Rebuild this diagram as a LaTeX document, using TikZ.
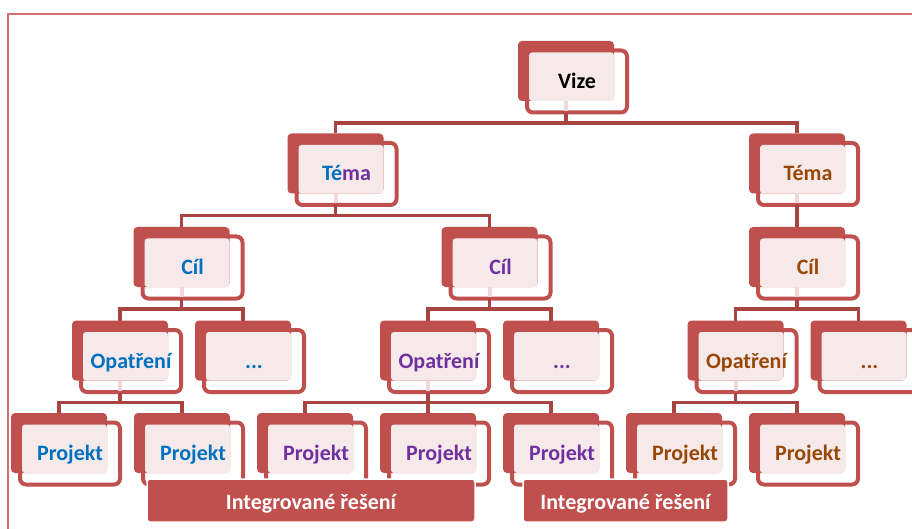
\documentclass[tikz,border=0pt]{standalone}
\usepackage{fontspec}
\setmainfont{Carlito}
\usepackage{tikz}
\usetikzlibrary{positioning}

\definecolor{boxRed}{HTML}{C0504D}
\definecolor{connRed}{HTML}{A84542}
\definecolor{boxPink}{HTML}{F6E9E9}
\definecolor{stripePink}{HTML}{F0D9D8}
\definecolor{frameRed}{HTML}{D56F6F}
\definecolor{tBlue}{HTML}{0070C0}
\definecolor{tPurple}{HTML}{7030A0}
\definecolor{tBrown}{HTML}{984806}

\begin{document}
\begin{tikzpicture}[x=1pt, y=-1pt,
		solidbox/.style={fill=boxRed, rounded corners=4pt, minimum width=96pt, minimum height=60pt, inner sep=0pt, outer sep=0pt},
		framebox/.style={draw=boxRed, line width=4pt, rounded corners=6pt, minimum width=100pt, minimum height=62pt, inner sep=0pt, outer sep=0pt},
		boxfill/.style={fill=boxPink, rounded corners=3pt},
		boxtext/.style={font=\bfseries\fontsize{22}{26}\selectfont, inner sep=0pt, text height=17pt, text depth=3pt},
		stripe/.style={draw=stripePink, line width=4pt},
		tree/.style={draw=connRed, line width=3.5pt,
			to path={([yshift=-42pt]\tikztostart.center) -- ([yshift=-52pt]\tikztostart.center) -| (\tikztotarget.north)}},
		intbar/.style={fill=boxRed, draw=white, line width=1.5pt, rounded corners=3pt, minimum height=43pt, inner sep=0pt,
			text=white, font=\bfseries\fontsize{22}{26}\selectfont, text height=22pt, text depth=4pt}]
		\useasboundingbox (0,0) rectangle (912,529);

		% frame
		\draw[frameRed, line width=1.5pt] (912,14) -- (8,14) -- (8,529);

		% boxes
		\foreach \n/\x/\y/\c/\t in {
				vize/566/71/black/Vize,
				tema1/335.5/163.5/tBlue/{Té\textcolor{tPurple}{ma}},
				tema2/797/163.5/tBrown/Téma,
				cil1/181.5/257/tBlue/Cíl,
				cil2/489.5/257/tPurple/Cíl,
				cil3/797/257/tBrown/Cíl,
				opat1/120/350.5/tBlue/Opatření,
				dots1/243/350.5/tBlue/{.{}.{}.},
				opat2/428/350.5/tPurple/Opatření,
				dots2/551/350.5/tPurple/{.{}.{}.},
				opat3/735.5/350.5/tBrown/Opatření,
				dots3/858.5/350.5/tBrown/{.{}.{}.},
				proj1/59/443/tBlue/Projekt,
				proj2/182/443/tBlue/Projekt,
				proj3/305/443/tPurple/Projekt,
				proj4/428/443/tPurple/Projekt,
				proj5/551/443/tPurple/Projekt,
				proj6/674/443/tBrown/Projekt,
				proj7/797/443/tBrown/Projekt}{
			\node[solidbox] (\n) at (\x,\y) {};
			\node[framebox] (\n-o) at ([shift={(11,10.5)}]\n.center) {};
			\fill[boxfill] ([shift={(2,2)}]\n-o.north west) rectangle (\n.south east);
			\node[boxtext, text=\c] at (\n-o) {\t};
		}
		\foreach \p in {vize,tema1,tema2,cil1,cil2,cil3,opat1,opat2,opat3}
			\draw[stripe] (\p.south) -- ([yshift=-40pt]\p.center);

		% connectors
		\path
			(vize) edge[tree] (tema1) edge[tree] (tema2)
			(tema1) edge[tree] (cil1) edge[tree] (cil2)
			(tema2) edge[tree] (cil3);
		\path
			(cil1) edge[tree] (opat1) edge[tree] (dots1)
			(cil2) edge[tree] (opat2) edge[tree] (dots2)
			(cil3) edge[tree] (opat3) edge[tree] (dots3);
		\path
			(opat1) edge[tree] (proj1) edge[tree] (proj2)
			(opat2) edge[tree] (proj3) edge[tree] (proj4) edge[tree] (proj5)
			(opat3) edge[tree] (proj6) edge[tree] (proj7);

		% integrated solutions
		\node[intbar, minimum width=328pt] (int1) at (311,500.5) {Integrované řešení};
		\node[intbar, minimum width=205pt] (int2) at (625.5,500.5) {Integrované řešení};
	\end{tikzpicture}
\end{document}
